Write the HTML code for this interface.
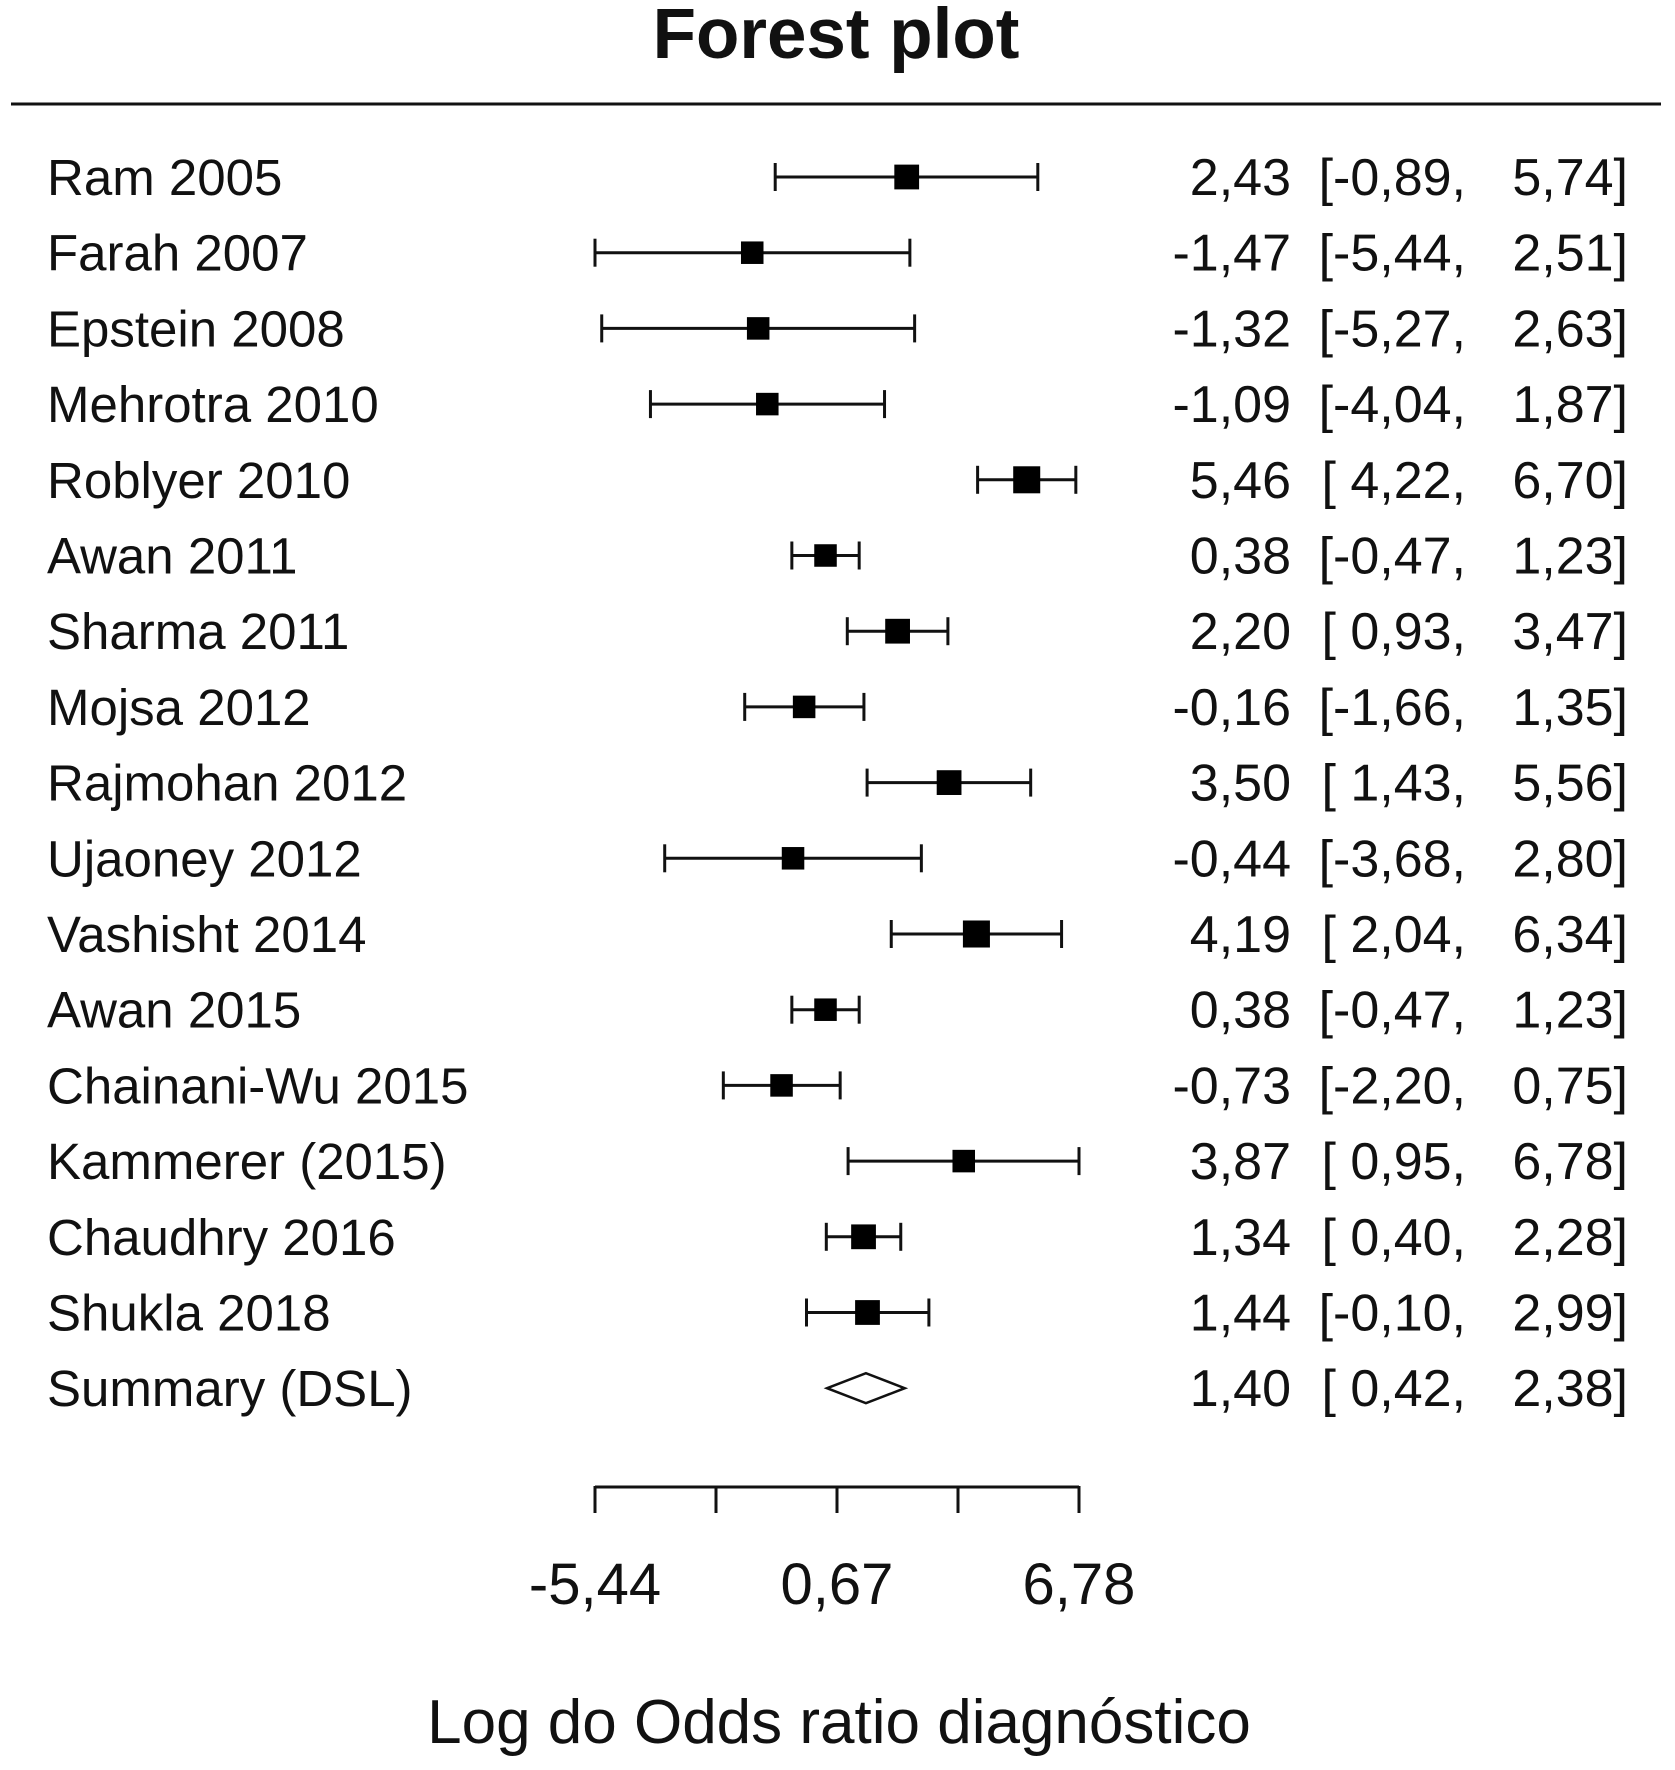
<!DOCTYPE html>
<html><head><meta charset="utf-8"><style>
html,body{margin:0;padding:0;background:#fff;}
svg text{font-family:"Liberation Sans",sans-serif;fill:#111;}
</style></head><body>
<svg id="chart" width="1675" height="1765" viewBox="0 0 1675 1765" xmlns="http://www.w3.org/2000/svg">
<text x="836" y="58" font-size="71" font-weight="bold" text-anchor="middle">Forest plot</text>
<line x1="11" y1="104" x2="1661" y2="104" stroke="#111" stroke-width="3"/>
<text x="839" y="1743" font-size="62" text-anchor="middle">Log do Odds ratio diagnóstico</text>
</svg>
<script>
const studies=["Ram 2005","Farah 2007","Epstein 2008","Mehrotra 2010","Roblyer 2010","Awan 2011","Sharma 2011","Mojsa 2012","Rajmohan 2012","Ujaoney 2012","Vashisht 2014","Awan 2015","Chainani-Wu 2015","Kammerer (2015)","Chaudhry 2016","Shukla 2018"];
const estimates=[2.43,-1.47,-1.32,-1.09,5.46,0.38,2.20,-0.16,3.50,-0.44,4.19,0.38,-0.73,3.87,1.34,1.44];
const lower=[-0.89,-5.44,-5.27,-4.04,4.22,-0.47,0.93,-1.66,1.43,-3.68,2.04,-0.47,-2.20,0.95,0.40,-0.10];
const upper=[5.74,2.51,2.63,1.87,6.70,1.23,3.47,1.35,5.56,2.80,6.34,1.23,0.75,6.78,2.28,2.99];
const weights=[22,20,20,20,24,20,22,20,22,20,24,20,20,20,22,22];
const summaryLabel="Summary (DSL)";
const summary=[1.40,0.42,2.38];
const tickValues=[-5.44,-2.385,0.67,3.725,6.78];
const tickLabels=["-5,44","","0,67","","6,78"];

const NS="http://www.w3.org/2000/svg";
const svg=document.getElementById('chart');
const xMin=-5.44,xMax=6.78,px0=595,px1=1079;
const X=v=>px0+(v-xMin)/(xMax-xMin)*(px1-px0);
const Y=i=>177+i*75.7;
const fmt=v=>v.toFixed(2).replace('.',',');
function mk(tag,attrs,txt){const e=document.createElementNS(NS,tag);for(const k in attrs)e.setAttribute(k,attrs[k]);if(txt!==undefined)e.textContent=txt;svg.appendChild(e);return e;}
function rowText(i,label,est,lo,hi){
  const y=Y(i)+18;
  let t=mk('text',{x:47,y:y,'font-size':51});t.textContent=label;
  
  
  t=mk('text',{x:1291,y:y,'font-size':52,'text-anchor':'end'},fmt(est));
  
  
  t=mk('text',{x:1466,y:y,'font-size':52,'text-anchor':'end','xml:space':'preserve'},'['+(lo<0?'':'\u00a0')+fmt(lo)+',');
  
  
  t=mk('text',{x:1628,y:y,'font-size':52,'text-anchor':'end'},fmt(hi)+']');
  
  
}
studies.forEach((s,i)=>{
  const y=Y(i);
  let l=mk('line',{x1:X(lower[i]),y1:y,x2:X(upper[i]),y2:y,stroke:'#111','stroke-width':3});
  
  
  [lower[i],upper[i]].forEach(v=>{
    const c=mk('line',{x1:X(v),y1:y-14,x2:X(v),y2:y+14,stroke:'#111','stroke-width':3});
    
    
  });
  const w=weights[i]*1.126;
  const r=mk('rect',{x:X(estimates[i])-w/2,y:y-w/2,width:w,height:w,fill:'#000'});
  
  
  rowText(i,s,estimates[i],lower[i],upper[i]);
});
const sy=Y(studies.length);
const d=mk('polygon',{points:`${X(summary[1])},${sy} ${X(summary[0])},${sy-15} ${X(summary[2])},${sy} ${X(summary[0])},${sy+15}`,fill:'#fff',stroke:'#111','stroke-width':2.5});


rowText(studies.length,summaryLabel,summary[0],summary[1],summary[2]);
const ax=mk('line',{x1:X(xMin),y1:1487,x2:X(xMax),y2:1487,stroke:'#111','stroke-width':3});


tickValues.forEach((v,i)=>{
  const t=mk('line',{x1:X(v),y1:1486,x2:X(v),y2:1513,stroke:'#111','stroke-width':3});
  
  
  if(tickLabels[i]){
    const tl=mk('text',{x:X(v),y:1604,'font-size':58,'text-anchor':'middle'},tickLabels[i]);
    
    
  }
});
</script>
</body></html>
